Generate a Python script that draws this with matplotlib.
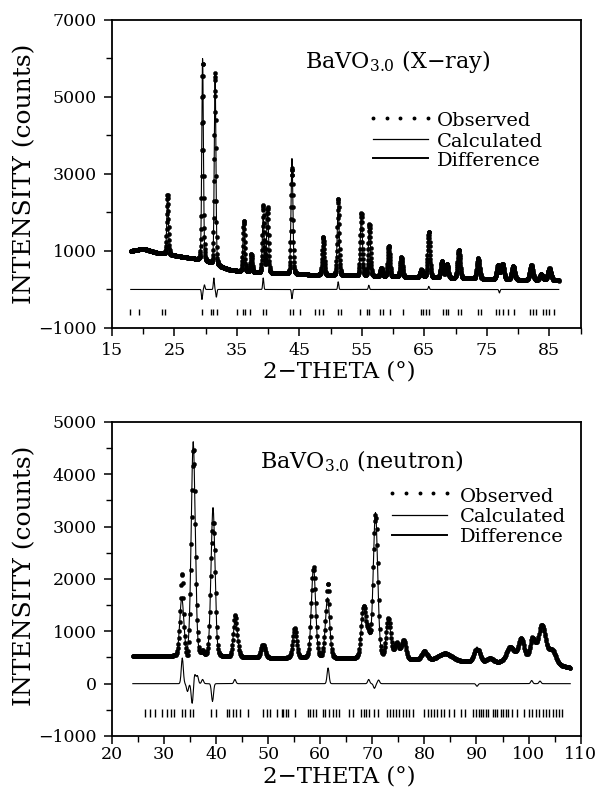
import matplotlib
matplotlib.use("Agg")
import matplotlib.pyplot as plt
import numpy as np
from matplotlib.ticker import MultipleLocator

plt.rcParams["font.family"] = ["DejaVu Serif"]
plt.rcParams["mathtext.fontset"] = "dejavuserif"

# ---- X-ray pattern ----
xray_range = (18.0, 86.5)
xray_step = 0.03
xray_bg_tth = [18, 20, 22, 25, 28, 30, 32, 34, 37, 40, 45, 50, 55, 60, 65, 70, 75, 80, 86.5]
xray_bg_cnt = [1000, 1060, 960, 880, 800, 720, 600, 500, 450, 420, 390, 370, 350, 330, 310, 290, 270, 250, 230]
xray_pk_pos = [23.9, 29.5, 31.5, 36.1, 37.3, 39.2, 39.9, 43.8, 48.8, 51.2, 54.9, 56.2, 58.1, 59.3,
               61.3, 64.5, 65.7, 67.8, 68.6, 70.5, 73.6, 76.8, 77.5, 79.2, 82.1, 83.7, 85.0]
xray_pk_int = [1550, 5270, 4980, 1320, 460, 1450, 1700, 3000, 990, 1800, 1630, 1280, 210, 800,
               515, 200, 1110, 430, 360, 740, 530, 380, 390, 345, 385, 150, 310]
xray_pk_fwhm = [0.30, 0.30, 0.30, 0.32, 0.32, 0.34, 0.34, 0.35, 0.36, 0.37, 0.38, 0.38, 0.40, 0.40,
                0.42, 0.44, 0.44, 0.46, 0.46, 0.48, 0.50, 0.52, 0.52, 0.54, 0.56, 0.58, 0.60]
xray_diff_pos = [29.4, 29.8, 31.3, 31.7, 39.2, 43.8, 51.2, 56.1, 65.7, 77.0]
xray_diff_amp = [-260, 120, 300, -200, 300, -240, 200, 110, 80, -90]
xray_refl = [17.9, 19.4, 23.0, 23.5, 29.4, 30.8, 31.2, 31.8, 35.0, 36.0, 36.3, 37.1, 39.2, 39.6,
             43.5, 43.9, 45.1, 47.5, 48.2, 48.7, 51.2, 51.6, 54.7, 55.8, 56.2, 57.9, 58.4, 59.5,
             61.5, 64.4, 64.8, 65.3, 65.7, 67.9, 68.4, 68.8, 70.4, 70.9, 73.6, 74.0, 76.5, 77.0,
             77.6, 78.4, 79.4, 81.9, 82.3, 82.9, 83.9, 84.5, 85.0, 85.8]

# ---- neutron pattern ----
neut_range = (24.0, 108.0)
neut_step = 0.1
neut_bg_tth = [24, 30, 40, 50, 60, 70, 80, 88, 95, 105, 108]
neut_bg_cnt = [520, 520, 500, 490, 480, 470, 450, 420, 400, 360, 300]
neut_pk_pos = [33.4, 35.6, 39.4, 43.7, 49.0, 55.1, 58.7, 61.4, 68.3, 69.2, 70.6, 73.1, 74.7, 76.0,
               80.0, 84.0, 90.1, 92.6, 96.5, 98.6, 100.8, 102.6, 104.5]
neut_pk_int = [1100, 4100, 2850, 740, 250, 570, 1740, 1150, 950, 350, 2780, 760, 300, 360,
               160, 140, 280, 70, 300, 460, 420, 720, 260]
neut_pk_fwhm = [0.9, 0.9, 0.9, 0.9, 0.9, 0.9, 0.95, 0.95, 1.0, 1.0, 1.0, 1.0, 1.0, 1.0,
                1.2, 3.0, 1.2, 1.4, 1.8, 1.4, 1.4, 1.6, 1.6]
neut_diff_pos = [33.5, 34.5, 35.4, 35.9, 36.4, 37.4, 39.3, 43.6, 61.5, 69.3, 70.4, 71.2, 90.1, 100.6, 102.2]
neut_diff_amp = [490, -150, -380, 180, 150, 80, -340, 80, 300, 80, -90, 70, -50, 60, 50]
neut_refl = [26.4, 27.3, 28.3, 29.6, 30.5, 31.3, 31.9, 33.4, 34.0, 35.0, 35.6, 39.1, 40.0, 42.0,
             42.5, 43.3, 43.9, 44.6, 46.2, 49.0, 49.7, 50.4, 51.6, 52.6, 53.8, 55.1, 52.9, 53.5,
             57.7, 58.1, 58.6, 59.1, 60.5, 61.0, 61.7, 62.4, 63.1, 63.6, 65.6, 66.3, 67.9, 68.3,
             68.8, 69.3, 70.4, 71.1, 72.8, 73.3, 73.9, 74.6, 75.2, 75.9, 76.5, 77.1, 77.8, 80.0,
             80.6, 81.3, 81.9, 82.5, 83.2, 83.8, 84.8, 85.7, 87.0, 87.7, 89.3, 89.9, 90.4, 90.8,
             91.3, 91.8, 92.3, 93.1, 93.6, 94.0, 94.7, 95.1, 95.6, 96.1, 96.9, 97.7, 99.1, 100.0,
             100.7, 101.4, 102.0, 102.7, 103.3, 103.9, 104.6, 105.2, 105.9, 106.4]

legend_labels = ["Observed", "Calculated", "Difference"]


def profile(tth, bg_t, bg_c, pos, inten, fwhm, eta=0.15):
    y = np.interp(tth, bg_t, bg_c).astype(float)
    for p, a, w in zip(pos, inten, fwhm):
        g = np.exp(-4 * np.log(2) * ((tth - p) / w) ** 2)
        lz = 1.0 / (1.0 + 4 * ((tth - p) / w) ** 2)
        y += a * ((1 - eta) * g + eta * lz)
    return y


def difference(tth, pos, amp, w=0.25):
    d = np.zeros_like(tth)
    for p, a in zip(pos, amp):
        d += a * np.exp(-4 * np.log(2) * ((tth - p) / w) ** 2)
    return d


def draw_panel(ax, rng, step, bg_t, bg_c, pos, inten, fwhm, dpos, damp, dw, refl, refl_y, refl_h):
    tth = np.arange(rng[0], rng[1] + step / 2, step)
    calc = profile(tth, bg_t, bg_c, pos, inten, fwhm)
    diff = difference(tth, dpos, damp, dw)
    obs = calc + diff
    ax.plot(tth, calc, color="black", lw=0.8, zorder=2)
    ax.plot(tth, obs, ls="none", marker="o", ms=3.0, mfc="black", mec="black", mew=0.3, zorder=3)
    ax.plot(tth, diff, color="black", lw=0.8)
    ax.vlines(refl, refl_y - refl_h, refl_y + refl_h, color="black", lw=1.0)


def style_axes(ax, xlim, ylim, xpad=4):
    ax.set_xlim(*xlim)
    ax.set_ylim(*ylim)
    ax.tick_params(which="major", direction="out", length=6, width=1.1, pad=5)
    ax.tick_params(axis="x", which="major", labelsize=12.5, pad=xpad)
    ax.tick_params(axis="y", which="major", labelsize=12.5)
    ax.tick_params(which="minor", direction="out", length=4, width=1.0)
    for s in ax.spines.values():
        s.set_linewidth(1.3)
    ax.set_ylabel("INTENSITY (counts)", fontsize=18)
    ax.set_xlabel("2\u2212THETA (\u00b0)", fontsize=16.5)


def key(ax, x0, x1, xt, hy, ty):
    # hand-placed key: dotted row, thin line, thicker line
    tr = ax.transAxes
    ax.plot(np.linspace(x0, x1, 5), [hy[0]] * 5, ls="none", marker="o", ms=1.8,
            color="black", transform=tr, clip_on=False)
    ax.plot([x0, x1], [hy[1]] * 2, color="black", lw=0.9, transform=tr)
    ax.plot([x0, x1], [hy[2]] * 2, color="black", lw=1.4, transform=tr)
    for lab, y in zip(legend_labels, ty):
        ax.text(xt, y, lab, transform=tr, fontsize=14, va="baseline", ha="left")


fig = plt.figure(figsize=(5.97, 7.88), dpi=100)

ax1 = fig.add_axes([0.1876, 0.5838, 0.785, 0.3909])
draw_panel(ax1, xray_range, xray_step, xray_bg_tth, xray_bg_cnt, xray_pk_pos, xray_pk_int,
           xray_pk_fwhm, xray_diff_pos, xray_diff_amp, 0.2, xray_refl, -590, 80)
style_axes(ax1, (15, 90), (-1000, 7000))
ax1.xaxis.set_major_locator(MultipleLocator(10, offset=5))
ax1.xaxis.set_minor_locator(MultipleLocator(5))
ax1.set_yticks([-1000, 1000, 3000, 5000, 7000])
ax1.yaxis.set_minor_locator(MultipleLocator(1000))
ax1.text(0.412, 0.844, r"BaVO$_{3.0}$ (X$-$ray)", transform=ax1.transAxes, fontsize=16, va="baseline")
key(ax1, 0.557, 0.674, 0.694, (0.682, 0.613, 0.551), (0.656, 0.588, 0.526))
ax1.yaxis.set_label_coords(-0.161, 0.5)
ax1.xaxis.set_label_coords(0.485, -0.105)

ax2 = fig.add_axes([0.1876, 0.0660, 0.785, 0.3985])
draw_panel(ax2, neut_range, neut_step, neut_bg_tth, neut_bg_cnt, neut_pk_pos, neut_pk_int,
           neut_pk_fwhm, neut_diff_pos, neut_diff_amp, 0.45, neut_refl, -560, 70)
style_axes(ax2, (20, 110), (-1000, 5000), xpad=1.5)
ax2.xaxis.set_major_locator(MultipleLocator(10))
ax2.xaxis.set_minor_locator(MultipleLocator(5))
ax2.yaxis.set_major_locator(MultipleLocator(1000))
ax2.yaxis.set_minor_locator(MultipleLocator(500))
ax2.text(0.316, 0.8535, r"BaVO$_{3.0}$ (neutron)", transform=ax2.transAxes, fontsize=16, va="baseline")
key(ax2, 0.5975, 0.715, 0.7426, (0.774, 0.704, 0.640), (0.745, 0.6815, 0.618))
ax2.yaxis.set_label_coords(-0.161, 0.51)
ax2.xaxis.set_label_coords(0.485, -0.093)

fig.savefig("out.png", dpi=100)
